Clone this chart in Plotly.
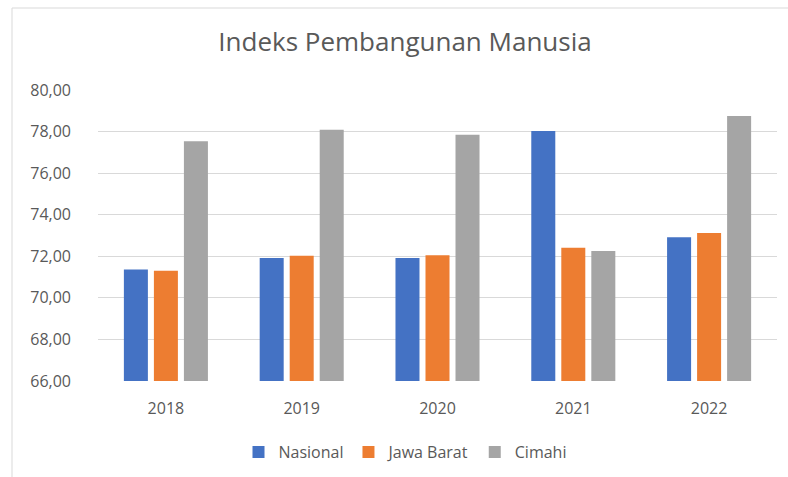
import plotly.graph_objects as go

years = ["2018", "2019", "2020", "2021", "2022"]
nasional = [71.36, 71.92, 71.92, 78.03, 72.91]
jawa_barat = [71.30, 72.03, 72.05, 72.41, 73.12]
cimahi = [77.53, 78.09, 77.85, 72.25, 78.75]

series_names = ["Nasional", "Jawa Barat", "Cimahi"]
series_values = [nasional, jawa_barat, cimahi]
colors = ["#4472C4", "#ED7D31", "#A5A5A5"]

title_text = "Indeks Pembangunan Manusia"
y_ticks = [66, 68, 70, 72, 74, 76, 78, 80]

font_family = "Open Sans"
text_color = "#595959"

fig = go.Figure()
for name, vals, col in zip(series_names, series_values, colors):
    fig.add_trace(go.Bar(x=years, y=vals, name=name, marker=dict(color=col, line=dict(width=0))))

fig.update_layout(
    width=788,
    height=477,
    paper_bgcolor="white",
    plot_bgcolor="white",
    separators=",.",
    barmode="group",
    bargap=0.337,
    bargroupgap=0.2,
    margin=dict(l=98, r=11, t=90, b=96, autoexpand=False),
    font=dict(family=font_family, size=16, color=text_color),
    title=dict(
        text=title_text,
        x=405 / 788,
        xanchor="center",
        xref="container",
        y=1 - 42 / 477,
        yref="container",
        yanchor="middle",
        font=dict(family=font_family, size=26, color=text_color),
    ),
    legend=dict(
        orientation="h",
        x=405 / 788,
        xanchor="center",
        xref="container",
        y=1 - 452 / 477,
        yref="container",
        yanchor="middle",
        font=dict(family=font_family, size=16, color=text_color),
        traceorder="normal",
        itemwidth=30,
    ),
    xaxis=dict(
        showgrid=False,
        showline=False,
        zeroline=False,
        ticks="",
        ticklabelstandoff=16,
        tickfont=dict(family=font_family, size=16, color=text_color),
    ),
    yaxis=dict(
        range=[66, 80],
        tickvals=y_ticks,
        tickformat=".2f",
        showgrid=True,
        gridcolor="#D9D9D9",
        gridwidth=1,
        zeroline=False,
        showline=False,
        ticks="",
        ticklabelstandoff=26,
        tickfont=dict(family=font_family, size=16, color=text_color),
    ),
    shapes=[
        dict(
            type="rect",
            xref="paper",
            yref="paper",
            x0=(12 - 98) / 679,
            x1=(800 - 98) / 679,
            y0=(381 - 490) / 291,
            y1=(381 - 8) / 291,
            line=dict(color="#D9D9D9", width=1),
            fillcolor="rgba(0,0,0,0)",
            layer="below",
        )
    ],
)

fig.write_html(
    "out.html",
    config={"displayModeBar": False},
    post_script="document.body.style.margin='0';",
)
